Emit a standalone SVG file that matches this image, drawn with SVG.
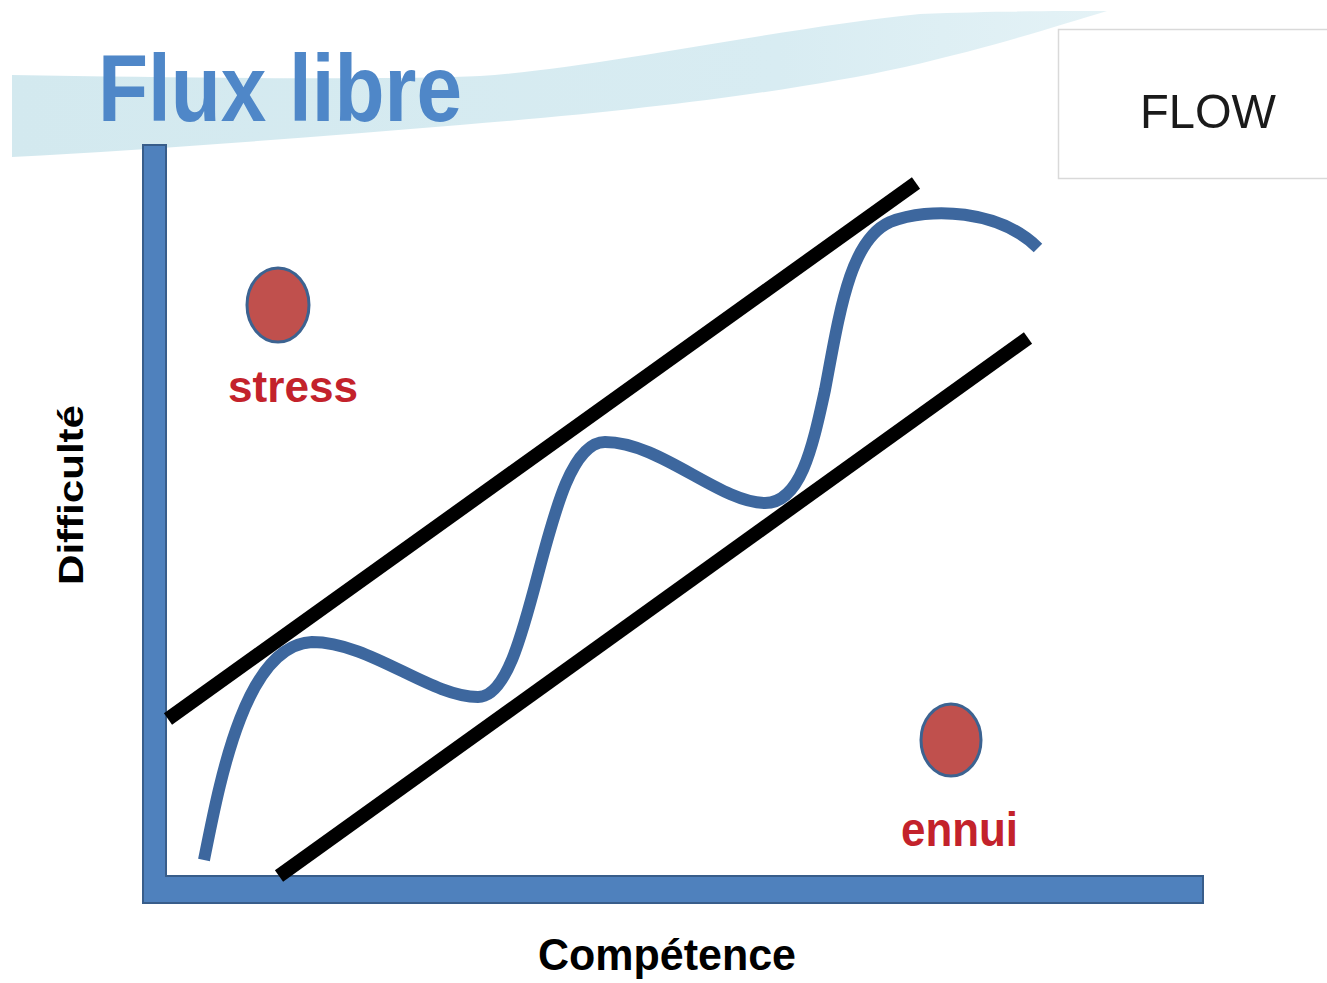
<svg xmlns="http://www.w3.org/2000/svg" width="1327" height="983" viewBox="0 0 1327 983">
  <style>
    .lbl { font-family: "Liberation Sans", Arial, sans-serif; font-weight: bold; }
    .red { fill: #c3222b; }
    .dot { fill: #c0504d; stroke: #3c6391; stroke-width: 3; }
    .band { stroke: #000; stroke-width: 14; stroke-linecap: butt; fill: none; }
    .curve { stroke: #3d679e; stroke-width: 12; fill: none; stroke-linecap: butt; }
  </style>
  <defs>
    <linearGradient id="sw" x1="0" y1="0" x2="1" y2="0">
      <stop offset="0" stop-color="#d3e9ef"/>
      <stop offset="0.7" stop-color="#d8ecf2"/>
      <stop offset="1" stop-color="#e4f2f6"/>
    </linearGradient>
  </defs>
  <rect width="1327" height="983" fill="#ffffff"/>

  <g id="swoosh">
    <path d="M 12 75 C 200 78, 400 80, 480 76 C 600 68, 780 28, 920 14 C 1000 11, 1060 11, 1107 11 C 1060 25, 1000 45, 905 67 C 800 90, 650 110, 460 125 C 300 138, 150 150, 12 157 Z" fill="url(#sw)"/>
  </g>

  <g id="title">
    <text x="98" y="121" class="lbl" font-size="95" fill="#4f87c8" textLength="364" lengthAdjust="spacingAndGlyphs">Flux libre</text>
  </g>

  <g id="flow-box">
    <rect x="1058.5" y="29.5" width="290" height="149" fill="#ffffff" stroke="#d9d9d9" stroke-width="1.5"/>
    <text x="1140" y="128" font-family="Liberation Sans, Arial, sans-serif" font-size="49" fill="#1a1a1a" textLength="136" lengthAdjust="spacingAndGlyphs">FLOW</text>
  </g>

  <g id="axes">
    <path d="M 143 145 L 166 145 L 166 876 L 1203 876 L 1203 903 L 143 903 Z" fill="#4f81bd" stroke="#385d8a" stroke-width="2"/>
  </g>

  <g id="connectors">
    <line class="band" x1="168" y1="719" x2="916" y2="183"/>
    <line class="band" x1="279" y1="876" x2="1028" y2="338"/>
    <path class="curve" d="M 204 860 C 220 780, 245 645, 312 642 C 370 642, 430 697, 478 697 C 535 697, 542 442, 605 442 C 660 442, 720 503, 765 503 C 800 503, 812 450, 825 390 C 840 310, 850 240, 890 222 C 930 206, 1000 210, 1038 248"/>
  </g>

  <g id="stress">
    <ellipse class="dot" cx="278" cy="305" rx="31" ry="37"/>
    <text x="228" y="402" class="lbl red" font-size="45" textLength="130" lengthAdjust="spacingAndGlyphs">stress</text>
  </g>

  <g id="ennui">
    <ellipse class="dot" cx="951" cy="740" rx="30" ry="36"/>
    <text x="901" y="846" class="lbl red" font-size="48" textLength="117" lengthAdjust="spacingAndGlyphs">ennui</text>
  </g>

  <g id="axis-y-label">
    <text transform="translate(83 585) rotate(-90)" class="lbl" font-size="35" fill="#000" textLength="180" lengthAdjust="spacingAndGlyphs">Difficulté</text>
  </g>

  <g id="axis-x-label">
    <text x="538" y="970" class="lbl" font-size="45" fill="#000" textLength="258" lengthAdjust="spacingAndGlyphs">Compétence</text>
  </g>
</svg>
